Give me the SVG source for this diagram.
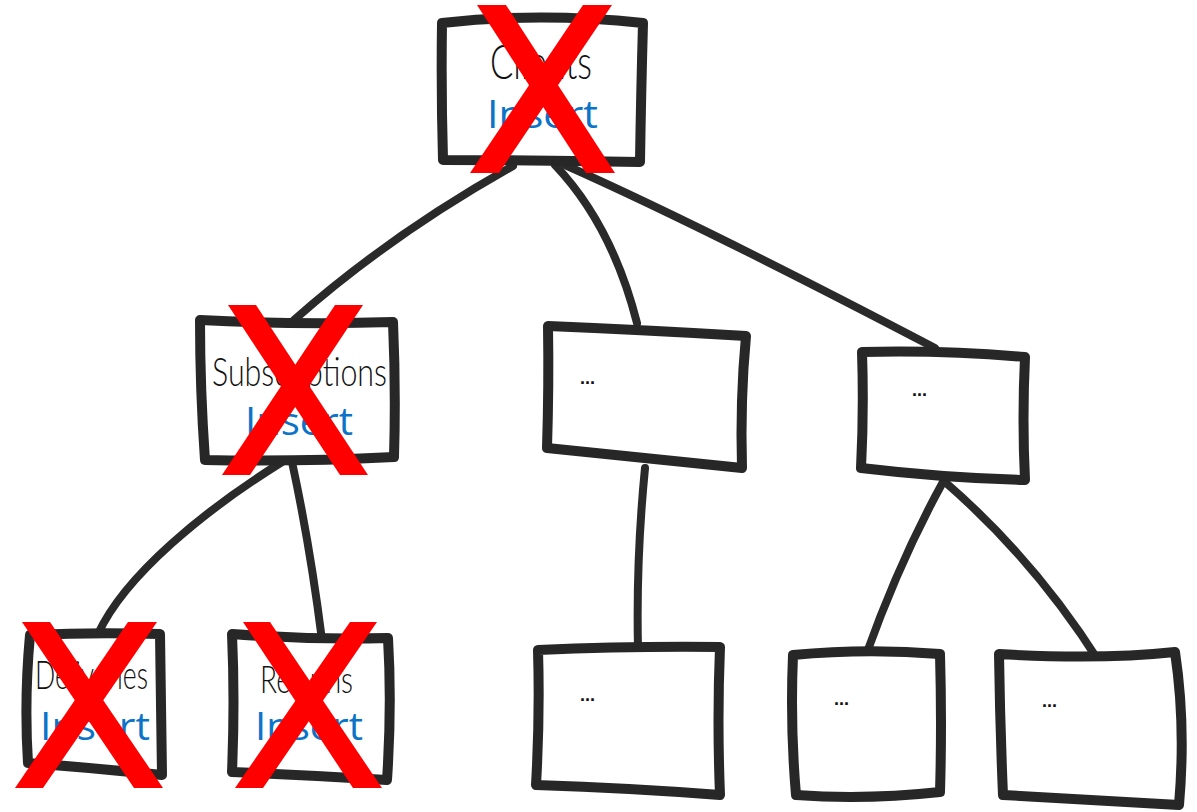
<svg xmlns="http://www.w3.org/2000/svg" width="1197" height="812" viewBox="0 0 1197 812">
<style>
.bg{fill:#ffffff}
.box{fill:#ffffff;stroke:#272727;stroke-width:10;stroke-linejoin:round;stroke-linecap:round}
.edge{fill:none;stroke:#2a2a2a;stroke-width:8;stroke-linecap:round}
.lbl{font-family:Lato,"Liberation Sans",sans-serif;font-weight:300;fill:#111111}
.ins{font-family:"Open Sans","Liberation Sans",sans-serif;fill:#0b73c8;font-size:39px}
.dots{font-family:"Liberation Sans",sans-serif;font-weight:bold;font-size:18px;fill:#111111}
.x{fill:#ff0000}
</style>
<rect class="bg" x="0" y="0" width="1197" height="812"/>
<g id="connectors">
<path class="edge" d="M513 166 Q390 235 294 320"/>
<path class="edge" d="M555 165 Q612 225 637 323"/>
<path class="edge" d="M565 165 Q700 225 935 348"/>
<path class="edge" d="M282 462 C205 510 125 575 98 634"/>
<path class="edge" d="M292 462 Q310 545 322 640"/>
<path class="edge" d="M645 468 Q636 560 638 648"/>
<path class="edge" d="M943 482 Q900 560 866 655"/>
<path class="edge" d="M945 482 Q1035 560 1100 663"/>
</g>
<g id="node-clients">
<path class="box" d="M442 23 Q540 12 643 23 Q641 95 640 162 Q540 160 443 160 Q441 90 442 23 Z"/>
<text class="lbl" x="490" y="79" font-size="48" textLength="102" lengthAdjust="spacingAndGlyphs">Clients</text>
<text class="ins" x="487" y="128" textLength="111" lengthAdjust="spacingAndGlyphs">Insert</text>
<polygon class="x" points="477,5 506,5 615,173 586,173"/>
<polygon class="x" points="583,5 612,5 499,173 470,173"/>
</g>
<g id="node-subscriptions">
<path class="box" d="M200 320 Q300 325 393 322 Q396 390 394 457 Q300 462 205 460 Q200 390 200 320 Z"/>
<text class="lbl" x="212" y="386" font-size="39" textLength="175" lengthAdjust="spacingAndGlyphs">Subscriptions</text>
<text class="ins" x="245" y="435" textLength="108" lengthAdjust="spacingAndGlyphs">Insert</text>
<polygon class="x" points="228,305 256,305 368,475 340,475"/>
<polygon class="x" points="335,305 363,305 250,475 222,475"/>
</g>
<g id="node-deliveries">
<path class="box" d="M30 635 Q95 632 160 634 Q161 705 162 775 Q95 768 28 763 Q24 700 30 635 Z"/>
<text class="lbl" x="35" y="689" font-size="39" textLength="113" lengthAdjust="spacingAndGlyphs">Deliveries</text>
<text class="ins" x="40" y="740" textLength="110" lengthAdjust="spacingAndGlyphs">Insert</text>
<polygon class="x" points="22,622 50,622 163,788 134,788"/>
<polygon class="x" points="128,622 157,622 43,788 15,788"/>
</g>
<g id="node-returns">
<path class="box" d="M232 634 Q310 640 388 638 Q392 705 387 780 Q310 775 232 772 Q235 700 232 634 Z"/>
<text class="lbl" x="260" y="693" font-size="38" textLength="93" lengthAdjust="spacingAndGlyphs">Returns</text>
<text class="ins" x="255" y="740" textLength="108" lengthAdjust="spacingAndGlyphs">Insert</text>
<polygon class="x" points="243,622 270,622 382,788 353,788"/>
<polygon class="x" points="350,622 377,622 263,788 235,788"/>
</g>
<g id="node-mid1">
<path class="box" d="M548 326 Q645 330 746 336 Q740 400 742 468 Q645 458 547 448 Q549 385 548 326 Z"/>
<text class="dots" x="580" y="384">...</text>
</g>
<g id="node-mid2">
<path class="box" d="M862 352 Q945 350 1025 357 Q1022 420 1025 480 Q945 478 861 468 Q864 410 862 352 Z"/>
<text class="dots" x="912" y="396">...</text>
</g>
<g id="node-bot1">
<path class="box" d="M538 650 Q630 646 720 647 Q717 720 720 795 Q630 788 536 785 Q540 715 538 650 Z"/>
<text class="dots" x="580" y="701">...</text>
</g>
<g id="node-bot2">
<path class="box" d="M793 655 Q866 648 940 654 Q942 725 940 792 Q866 800 796 795 Q790 725 793 655 Z"/>
<text class="dots" x="834" y="705">...</text>
</g>
<g id="node-bot3">
<path class="box" d="M999 654 Q1100 660 1175 652 Q1186 725 1179 805 Q1090 800 1003 795 Q1000 725 999 654 Z"/>
<text class="dots" x="1042" y="707">...</text>
</g>
</svg>
